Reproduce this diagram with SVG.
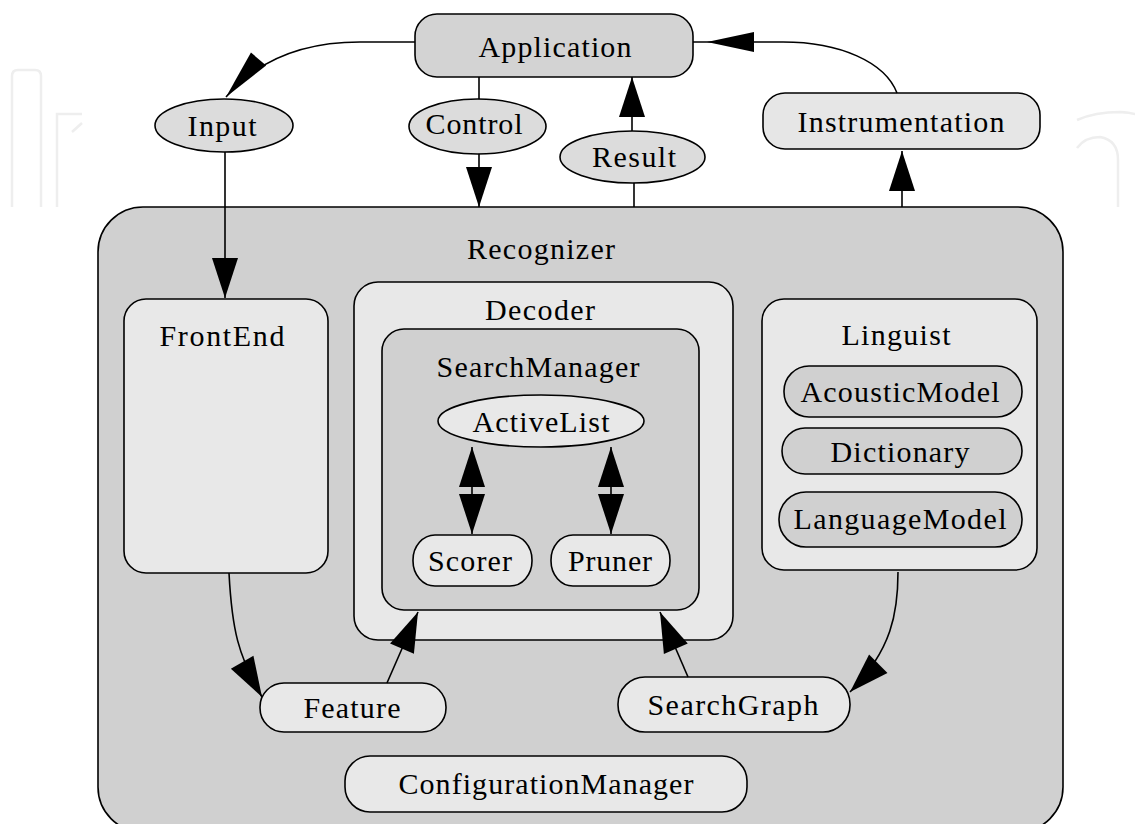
<svg xmlns="http://www.w3.org/2000/svg" width="1135" height="824" viewBox="0 0 1135 824">
<style>
.n{stroke:#000;stroke-width:1.6}
.t{font-family:"Liberation Serif","Times New Roman",serif;font-size:30px;text-anchor:middle;fill:#000}
.e{fill:none;stroke:#000;stroke-width:1.6}
.wm{fill:none;stroke:#eeeeee;stroke-width:2.5}
.g1{fill:#d0d0d0}
.g2{fill:#e8e8e8}
.g3{fill:#dcdcdc}
</style>
<defs>
<marker id="ah" markerUnits="userSpaceOnUse" markerWidth="40" markerHeight="26" viewBox="0 0 40 26" refX="40" refY="13" orient="auto-start-reverse" overflow="visible"><path d="M0,0 L40,13 L0,26 z" fill="#000"/></marker>
<marker id="ahThin" markerUnits="userSpaceOnUse" markerWidth="50" markerHeight="20" viewBox="0 0 50 20" refX="50" refY="10" orient="auto" overflow="visible"><path d="M0,0 L50,10 L0,20 z" fill="#000"/></marker>
<marker id="ahGap" markerUnits="userSpaceOnUse" markerWidth="64" markerHeight="20" viewBox="0 0 64 20" refX="61" refY="10" orient="auto" overflow="visible"><path d="M0,0 L47,10 L0,20 z" fill="#000"/></marker>
</defs>
<rect width="1135" height="824" fill="#fff"/>
<g id="watermark">
<path class="wm" d="M12,207 V76 Q12,70 18,70 H35 Q41,70 41,76 V207"/>
<path class="wm" d="M57,207 V114 H82 M72,132 L82,123"/>
<path class="wm" d="M1077,120 Q1095,112 1120,112 Q1135,113 1140,116 M1077,148 Q1085,137 1100,137 Q1118,140 1118,160 V207"/>
</g>
<g id="Recognizer">
<rect class="n g1" x="98" y="207" width="965" height="625" rx="45"/>
<text class="t" x="541" y="259" textLength="148" lengthAdjust="spacing">Recognizer</text>
</g>
<g id="Application">
<rect class="n" fill="#d3d3d3" x="415" y="14" width="278" height="63" rx="22"/>
<text class="t" x="555" y="57" textLength="153" lengthAdjust="spacing">Application</text>
</g>
<g id="Input">
<ellipse class="n g3" cx="224" cy="125.5" rx="69" ry="26.5"/>
<text class="t" x="222" y="136" textLength="69" lengthAdjust="spacing">Input</text>
</g>
<g id="Control">
<ellipse class="n g3" cx="477.5" cy="126.5" rx="68.5" ry="27.5"/>
<text class="t" x="474" y="134" textLength="97" lengthAdjust="spacing">Control</text>
</g>
<g id="Result">
<ellipse class="n g3" cx="632.5" cy="157" rx="72.5" ry="26"/>
<text class="t" x="634" y="167" textLength="84" lengthAdjust="spacing">Result</text>
</g>
<g id="Instrumentation">
<rect class="n" fill="#e6e6e6" x="763" y="93" width="277" height="56" rx="22"/>
<text class="t" x="901" y="132" textLength="207" lengthAdjust="spacing">Instrumentation</text>
</g>
<g id="FrontEnd">
<rect class="n g2" x="124" y="299" width="204" height="274" rx="22"/>
<text class="t" x="222" y="346" textLength="125" lengthAdjust="spacing">FrontEnd</text>
</g>
<g id="Decoder">
<rect class="n g2" x="354" y="282" width="379" height="358" rx="24"/>
<text class="t" x="540" y="320" textLength="110" lengthAdjust="spacing">Decoder</text>
</g>
<g id="SearchManager">
<rect class="n g1" x="382" y="329" width="317" height="281" rx="22"/>
<text class="t" x="538" y="377" textLength="203" lengthAdjust="spacing">SearchManager</text>
</g>
<g id="ActiveList">
<ellipse class="n g2" cx="541" cy="421" rx="103" ry="26"/>
<text class="t" x="541" y="432" textLength="137" lengthAdjust="spacing">ActiveList</text>
</g>
<g id="Scorer">
<rect class="n g2" x="413" y="535" width="119" height="51" rx="22" ry="25"/>
<text class="t" x="470" y="571" textLength="84" lengthAdjust="spacing">Scorer</text>
</g>
<g id="Pruner">
<rect class="n g2" x="551" y="535" width="119" height="51" rx="22" ry="25"/>
<text class="t" x="610" y="571" textLength="84" lengthAdjust="spacing">Pruner</text>
</g>
<g id="Linguist">
<rect class="n g2" x="762" y="299" width="275" height="271" rx="22"/>
<text class="t" x="896" y="345" textLength="109" lengthAdjust="spacing">Linguist</text>
</g>
<g id="AcousticModel">
<rect class="n g1" x="784" y="366" width="238" height="51" rx="25"/>
<text class="t" x="900" y="402" textLength="199" lengthAdjust="spacing">AcousticModel</text>
</g>
<g id="Dictionary">
<rect class="n g1" x="782" y="428" width="240" height="46" rx="23"/>
<text class="t" x="900" y="462" textLength="139" lengthAdjust="spacing">Dictionary</text>
</g>
<g id="LanguageModel">
<rect class="n g1" x="779" y="492" width="243" height="55" rx="27"/>
<text class="t" x="900" y="529" textLength="213" lengthAdjust="spacing">LanguageModel</text>
</g>
<g id="Feature">
<rect class="n g2" x="260" y="683" width="186" height="49" rx="24"/>
<text class="t" x="352" y="718" textLength="97" lengthAdjust="spacing">Feature</text>
</g>
<g id="SearchGraph">
<rect class="n g2" x="618" y="677" width="232" height="55" rx="27"/>
<text class="t" x="733" y="715" textLength="171" lengthAdjust="spacing">SearchGraph</text>
</g>
<g id="ConfigurationManager">
<rect class="n g2" x="345" y="756" width="402" height="56" rx="25"/>
<text class="t" x="546" y="794" textLength="295" lengthAdjust="spacing">ConfigurationManager</text>
</g>
<g id="connectors">
<path class="e" d="M415,42 L360,42 C310,42 262,55 226,97" marker-end="url(#ahThin)"/>
<path class="e" d="M897,93 C885,62 840,42 783,42 L693,42" marker-end="url(#ahGap)"/>
<path class="e" d="M479,77 L479,99"/>
<path class="e" d="M479,154 L479,207" marker-end="url(#ah)"/>
<path class="e" d="M632,131 L632,77" marker-end="url(#ah)"/>
<path class="e" d="M634,183 L634,207"/>
<path class="e" d="M902,207 L902,151" marker-end="url(#ah)"/>
<path class="e" d="M225,152 L225,298" marker-end="url(#ah)"/>
<path class="e" d="M472,447 L472,534" marker-start="url(#ah)" marker-end="url(#ah)"/>
<path class="e" d="M611,447 L611,534" marker-start="url(#ah)" marker-end="url(#ah)"/>
<path class="e" d="M229,573 C232,630 238,655 262,697" marker-end="url(#ah)"/>
<path class="e" d="M387,683 L418,612" marker-end="url(#ah)"/>
<path class="e" d="M688,677 L660,612" marker-end="url(#ah)"/>
<path class="e" d="M898,572 C898,612 892,650 850,692" marker-end="url(#ah)"/>
</g>
</svg>
